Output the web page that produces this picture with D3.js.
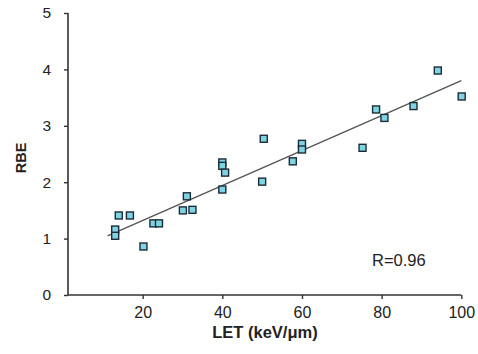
<!DOCTYPE html>
<html>
<head>
<meta charset="utf-8">
<script src="https://cdn.jsdelivr.net/npm/d3@7"></script>
<style>
  html, body { margin: 0; padding: 0; background: #fff; }
  svg { display: block; font-family: "Liberation Sans", Arial, Helvetica, sans-serif; }
</style>
</head>
<body>
<svg id="chart" width="478" height="354"></svg>
<script>
// LET (keV/µm) and measured RBE for each cell-survival point
const letValues = [14, 16.8, 13.1, 13.1, 20.2, 22.7, 24.1, 30.1, 31.1, 32.5,
                   40, 40, 40.7, 40, 50, 50.4, 57.7, 60, 60, 75.2,
                   78.6, 80.7, 88, 94.1, 100.1];
const rbeValues = [1.41, 1.41, 1.16, 1.05, 0.86, 1.27, 1.27, 1.50, 1.75, 1.51,
                   2.35, 2.29, 2.17, 1.87, 2.01, 2.77, 2.37, 2.68, 2.58, 2.61,
                   3.29, 3.14, 3.35, 3.98, 3.52];

// Linear fit drawn across the data range: [LET, RBE] at each end
const fitLine = [[11.2, 1.05], [100, 3.80]];

const xTicks = [20, 40, 60, 80, 100];
const yTicks = [0, 1, 2, 3, 4, 5];
const rLabel = "R=0.96";

const svg = d3.select("#chart");

const x = d3.scaleLinear().domain([0, 100]).range([63, 461.3]);
const y = d3.scaleLinear().domain([0, 5]).range([295, 13]);
const axisX0 = 68;

// y axis
const yAxis = svg.append("g")
  .attr("transform", `translate(${axisX0},0)`)
  .call(d3.axisLeft(y).tickValues(yTicks).tickSize(4).tickPadding(13).tickFormat(d3.format("d")));
yAxis.select(".domain").attr("d", `M-0,${y(5)}V${y(0)}`);

// x axis
const xAxis = svg.append("g")
  .attr("transform", `translate(0,${y(0)})`)
  .call(d3.axisBottom(x).tickValues(xTicks).tickSize(4).tickPadding(8).tickFormat(d3.format("d")));
xAxis.select(".domain").attr("d", `M${axisX0},0H${x(100)}`);

svg.selectAll(".domain").attr("stroke", "#333").attr("stroke-width", 1.6);
svg.selectAll(".tick line").attr("stroke", "#333").attr("stroke-width", 1.4);
yAxis.selectAll(".tick text").attr("font-size", 15.5).attr("fill", "#222").attr("font-family", null);
xAxis.selectAll(".tick text").attr("font-size", 16).attr("fill", "#222").attr("font-family", null);

// regression line
svg.append("line")
  .attr("x1", x(fitLine[0][0])).attr("y1", y(fitLine[0][1]))
  .attr("x2", x(fitLine[1][0])).attr("y2", y(fitLine[1][1]))
  .attr("stroke", "#555").attr("stroke-width", 1.4);

// data points
const pts = letValues.map((v, i) => ({ let: v, rbe: rbeValues[i] }));
const size = 7;
svg.append("g").selectAll("rect")
  .data(pts)
  .join("rect")
  .attr("x", d => x(d.let) - size / 2)
  .attr("y", d => y(d.rbe) - size / 2)
  .attr("width", size).attr("height", size)
  .attr("fill", "#7fd4e4")
  .attr("stroke", "#1c2b38").attr("stroke-width", 1.4);

// correlation label
svg.append("text")
  .attr("x", 372).attr("y", 266)
  .attr("font-size", 16.5).attr("fill", "#222")
  .text(rLabel);

// axis titles
svg.append("text")
  .attr("x", 265).attr("y", 338)
  .attr("text-anchor", "middle")
  .attr("font-size", 16.5).attr("font-weight", "bold").attr("fill", "#222")
  .text("LET (keV/\u03bcm)");

svg.append("text")
  .attr("transform", "translate(26,158) rotate(-90)")
  .attr("text-anchor", "middle")
  .attr("font-size", 14.5).attr("font-weight", "bold").attr("fill", "#222")
  .text("RBE");
</script>
</body>
</html>
